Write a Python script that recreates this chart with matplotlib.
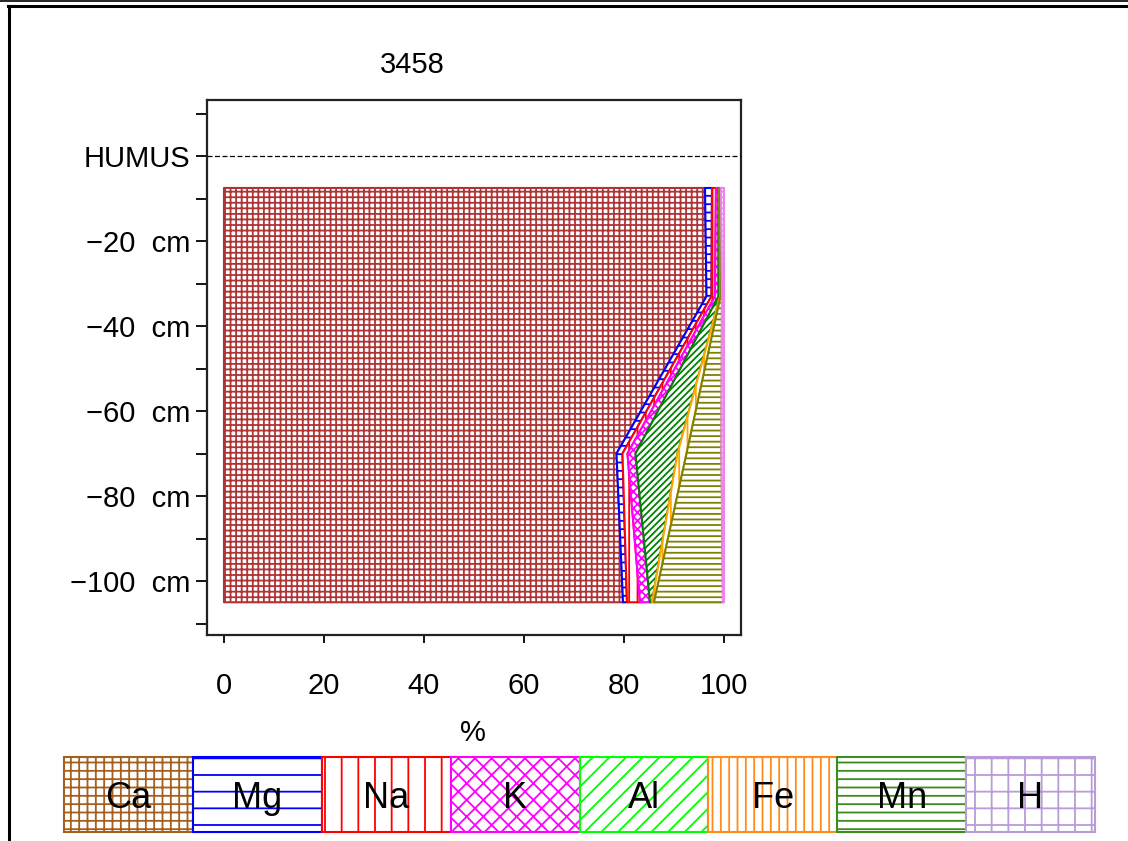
import matplotlib
matplotlib.use("Agg")
import matplotlib.pyplot as plt
from matplotlib.patches import Rectangle
from matplotlib.lines import Line2D
import numpy as np

plt.rcParams['font.family'] = ['Liberation Sans', 'DejaVu Sans']
plt.rcParams['hatch.linewidth'] = 1.3

# ---- data ----
title = "3458"
elements = ["Ca", "Mg", "Na", "K", "Al", "Fe", "Mn", "H"]
depths = [-7.5, -33, -70, -105]
ca = [96.2, 96.5, 78.5, 79.8]
mg = [1.4, 1.0, 1.2, 0.8]
na = [0.8, 0.7, 1.0, 2.6]
k = [0.5, 0.7, 1.6, 2.0]
al = [0.2, 0.3, 8.4, 0.4]
fe = [0.1, 0.1, 1.8, 0.4]
mn = [0.2, 0.3, 7.0, 13.8]
h = [0.6, 0.4, 0.5, 0.2]
series = [ca, mg, na, k, al, fe, mn, h]

ytick_vals = [10, 0, -10, -20, -30, -40, -50, -60, -70, -80, -90, -100, -110]
ytick_labels = ["", "HUMUS", "", "\u221220  cm", "", "\u221240  cm", "", "\u221260  cm",
                "", "\u221280  cm", "", "\u2212100  cm", ""]
xtick_vals = [0, 20, 40, 60, 80, 100]

# ---- styles ----
plot_colors = ["#AE3535", "#0000FF", "#FF0000", "#FF00FF", "#008000", "#FFA500", "#808000", "#EE82EE"]
plot_hatches = ["+++", "--", "||", "xxxx", "/////", "||", "---", "+++"]
leg_colors = ["#A5601E", "#0000FF", "#FF0000", "#FF00FF", "#00FF00", "#FF8C1A", "#3C8C1E", "#B89CD8"]
leg_hatches = ["++", "-", "|", "xx", "//", "||", "--", "+"]

W, H = 1128, 841
fig = plt.figure(figsize=(W / 100, H / 100), dpi=100)

ax = fig.add_axes([207 / W, 1 - 635 / H, (741 - 207) / W, (635 - 100) / H])
ax.set_xlim(-3.4, 103.4)
ax.set_ylim(-112.7, 13.2)

left = np.zeros(len(depths))
for vals, col, hat in zip(series, plot_colors, plot_hatches):
    right = left + np.array(vals)
    ax.fill_betweenx(depths, left, right, facecolor="white", edgecolor=col,
                     hatch=hat, linewidth=1.5, zorder=2)
    left = right

ax.axhline(0, color="black", linestyle=(0, (4, 2)), linewidth=0.9, zorder=3)

ax.set_yticks(ytick_vals)
ax.set_yticklabels(ytick_labels, fontsize=21)
ax.set_xticks(xtick_vals)
ax.set_xticklabels([str(v) for v in xtick_vals], fontsize=21)
ax.tick_params(axis="y", length=8, width=1.3, pad=4)
ax.tick_params(axis="x", length=6, width=1.3, pad=21)
for s in ax.spines.values():
    s.set_linewidth(1.6)
    s.set_color("#222222")

fig.text(412 / W, 1 - 65 / H, title, ha="center", va="center", fontsize=21)
fig.text(473 / W, 1 - 733 / H, "%", ha="center", va="center", fontsize=21)

# ---- legend ----
lax = fig.add_axes([64 / W, 1 - 832 / H, (1095 - 64) / W, (832 - 757) / H])
lax.set_xlim(0, len(elements))
lax.set_ylim(0, 1)
lax.axis("off")
for i, (name, col, hat) in enumerate(zip(elements, leg_colors, leg_hatches)):
    lax.add_patch(Rectangle((i, 0), 1, 1, facecolor="white", edgecolor=col,
                            hatch=hat, linewidth=1.5, clip_on=False))
    lax.text(i + 0.5, 0.45, name, ha="center", va="center", fontsize=26, zorder=5)

# ---- frame lines ----
fig.add_artist(Line2D([0, 1], [1 - 0.5 / H, 1 - 0.5 / H], color="black", linewidth=1.2))
fig.add_artist(Line2D([8 / W, 1], [1 - 6 / H, 1 - 6 / H], color="black", linewidth=2.2))
fig.add_artist(Line2D([9 / W, 9 / W], [1 - 6 / H, 0], color="black", linewidth=2.2))

fig.savefig("out.png", dpi=100)
